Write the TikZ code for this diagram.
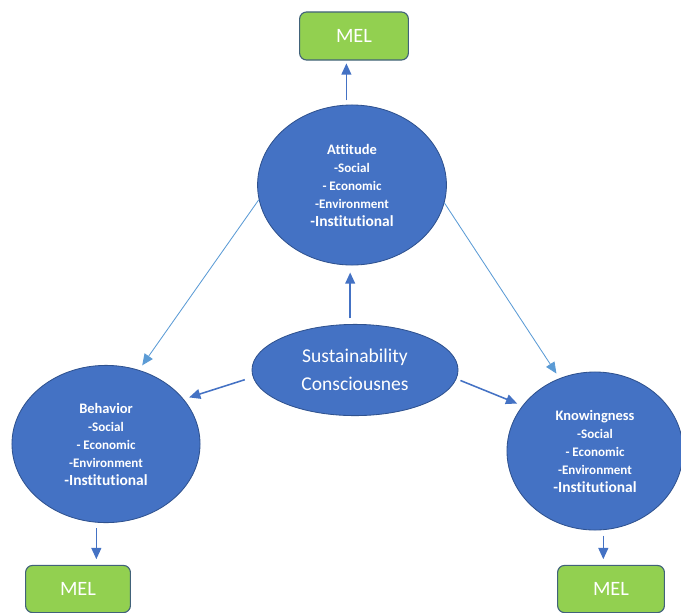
\documentclass[tikz,border=0pt]{standalone}
\usepackage{fontspec}
\setmainfont{Carlito}[Ligatures=NoCommon]
\usetikzlibrary{arrows.meta, shapes.geometric, positioning}
\definecolor{ovalblue}{HTML}{4472C4}
\definecolor{ovalline}{HTML}{2F528F}
\definecolor{melgreen}{HTML}{92D050}
\definecolor{melline}{HTML}{41627A}
\definecolor{linkblue}{HTML}{5B9BD5}
\tikzset{pillar/.style={ellipse, draw=ovalline, line width=0.6pt, fill=ovalblue,
    text=white, align=center, inner sep=0pt, font=\bfseries\fontsize{9.3}{12.8}\selectfont},
    melbox/.style={rectangle, rounded corners=5pt, draw=melline, line width=0.8pt,
    fill=melgreen, text=white, font=\fontsize{14.5}{16}\selectfont},
    thin link/.style={draw=linkblue, line width=0.6pt, -{Triangle[length=8pt,width=7pt]}},
    thick link/.style={draw=ovalblue, line width=1.1pt, -{Triangle[length=8pt,width=7pt]}}}

\begin{document}
\begin{tikzpicture}[x=0.025cm, y=-0.025cm]
  \useasboundingbox (0,0) rectangle (681,612);

  % the three pillars
  \node[pillar, minimum width=4.72cm, minimum height=4cm] (att) at (352,185)
    {{\fontsize{10.3}{12.8}\selectfont Attitude}\\-Social\\- Economic\\-Environment\\{\fontsize{11}{12.8}\selectfont -Institutional}};
  \node[pillar, minimum width=4.7cm, minimum height=3.93cm] (beh) at (106,444)
    {{\fontsize{10.3}{12.8}\selectfont Behavior}\\-Social\\- Economic\\-Environment\\{\fontsize{11}{12.8}\selectfont -Institutional}};
  \node[pillar, minimum width=4.4cm, minimum height=3.95cm] (know) at (595,451)
    {{\fontsize{10.3}{12.8}\selectfont Knowingness}\\-Social\\- Economic\\-Environment\\{\fontsize{11}{12.8}\selectfont -Institutional}};

  % centre
  \node[pillar, minimum width=5.15cm, minimum height=2.28cm,
    font=\fontsize{13.9}{20}\selectfont] (sus) at (355,370) {Sustainability\\Consciousnes};

  % MEL boxes
  \node[melbox, minimum width=2.72cm, minimum height=1.2cm] (melA) at (354,36) {MEL};
  \node[melbox, minimum width=2.62cm, minimum height=1.18cm] (melB) at (78,589) {MEL};
  \node[melbox, minimum width=2.67cm, minimum height=1.18cm] (melK) at (611,589) {MEL};

  % links
  \draw[thin link, shorten >=4pt] (att.189) -- (beh.66);
  \draw[thin link, shorten >=4pt] (att.-11) -- (know.116);
  \draw[thick link, shorten <=4pt, shorten >=5pt] (sus.96) -- (sus.96 |- att.south);
  \draw[thick link, shorten <=6pt, shorten >=4pt] (sus.184) -- (beh.30);
  \draw[thick link, shorten <=3pt, shorten >=4pt] (sus.-5) -- (know.148);
  \draw[thick link, shorten <=3pt, shorten >=2pt] (att.94) -- (att.94 |- melA.south);
  \draw[thick link, shorten <=4pt, shorten >=4pt] (beh.-97) -- (beh.-97 |- melB.north);
  \draw[thick link, shorten <=4pt, shorten >=4pt] (know.-84) -- (know.-84 |- melK.north);
\end{tikzpicture}
\end{document}
